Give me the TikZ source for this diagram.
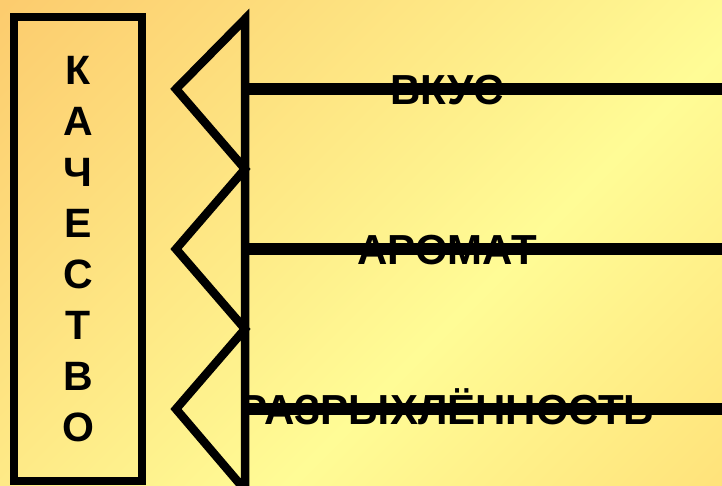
\documentclass[tikz,border=0pt]{standalone}
\usepackage{fontspec}
\setmainfont{Liberation Sans}
\usepackage{xcolor}

\definecolor{bgOrange}{RGB}{252,204,110}
\definecolor{bgLight}{RGB}{255,252,150}
\definecolor{bgWarm}{RGB}{255,226,122}
\pgfdeclarehorizontalshading{bgfade}{100bp}{color(0bp)=(bgOrange); color(15bp)=(bgOrange); color(60bp)=(bgLight); color(86bp)=(bgWarm); color(100bp)=(bgWarm)}

\tikzset{
  qualitybox/.style={draw, line width=8pt, minimum width=128pt, minimum height=464pt, inner sep=0pt},
  letter/.style={anchor=base, inner sep=0pt, font=\bfseries\fontsize{41pt}{49pt}\selectfont},
  feature/.style={anchor=base, inner sep=0pt, font=\bfseries\fontsize{42pt}{50pt}\selectfont},
  wedge/.style={line width=8.5pt, line join=miter},
  spoke/.style={line width=12pt}
}

\begin{document}
\begin{tikzpicture}[x=1pt, y=-1pt]
    % Background
    \useasboundingbox (0,0) rectangle (722,485);
    \shade[shading=bgfade, shading angle=-45] (0,0) rectangle (722,485);

    % Draw the frame with the word going down
    \node[qualitybox] (quality) at (78,249) {};
    \foreach \ch [count=\i] in {К,А,Ч,Е,С,Т,В,О}
        \node[letter] (q\i) at (78,{55.3+51*(\i-1)+29.4}) {\ch};

    % Draw the three wedges
    \coordinate (top) at (245,19);
    \coordinate (bottom) at (245,490);
    \coordinate (tip1) at (176,89);
    \coordinate (tip2) at (176,249);
    \coordinate (tip3) at (176,409);
    \draw[wedge] (bottom) -- (top) -- (tip1) -- (245,169) -- (tip2) -- (245,329) -- (tip3) -- (bottom);

    % Draw feature labels
    \node[feature] (taste) at (447,{89+15}) {ВКУС};
    \node[feature] (aroma) at (447,{249+15}) {АРОМАТ};
    \node[feature] (loose) at (447,{409+15}) {РАЗРЫХЛЁННОСТЬ};

    % Draw the lines out to the right
    \coordinate (j1) at (245,89);
    \coordinate (j2) at (245,249);
    \coordinate (j3) at (245,409);
    \coordinate (e1) at (722,89);
    \coordinate (e2) at (722,249);
    \coordinate (e3) at (722,409);
    \draw[spoke] (j1) -- (e1);
    \draw[spoke] (j2) -- (e2);
    \draw[spoke] (j3) -- (e3);
\end{tikzpicture}
\end{document}
